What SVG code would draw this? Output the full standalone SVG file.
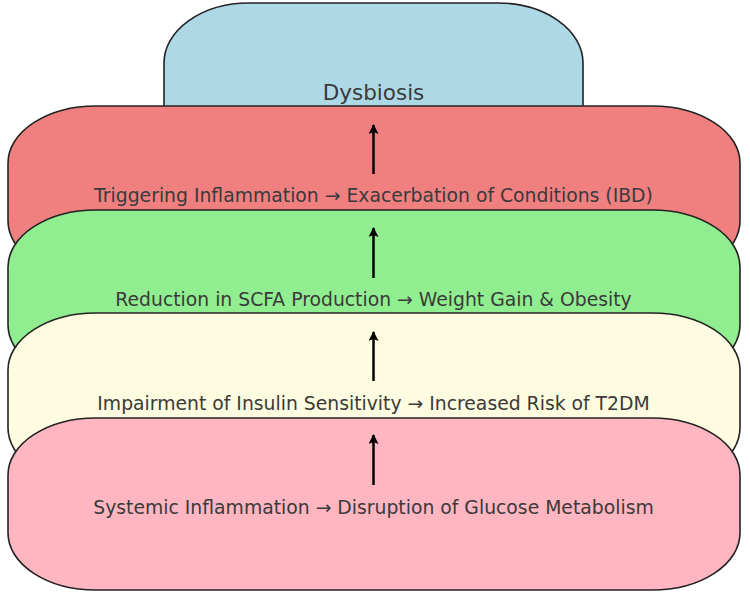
<svg xmlns="http://www.w3.org/2000/svg" width="750" height="598" viewBox="0 0 750 598">
<style>
.box{stroke:#222;stroke-width:1.6}
.lbl{font-family:"DejaVu Sans",sans-serif;font-size:18.8px;fill:#3a3a3a;text-anchor:middle}
.title{font-size:21.5px}
.arr{stroke:#000;stroke-width:2.5;fill:none;marker-end:url(#ah)}
</style>
<defs>
<marker id="ah" viewBox="0 0 10 10" refX="9" refY="5" markerWidth="4" markerHeight="4" orient="auto" markerUnits="strokeWidth">
<path d="M0,0 L10,5 L0,10 L2,5 Z" fill="#000"/>
</marker>
</defs>
<rect width="750" height="598" fill="#fff"/>
<g id="dysbiosis">
<rect class="box" x="164" y="3" width="419" height="172" rx="85" ry="60" fill="#ADD8E6"/>
<text class="lbl title" x="373.5" y="99.5">Dysbiosis</text>
</g>
<g id="inflammation">
<rect class="box" x="8" y="106" width="732" height="172" rx="88" ry="57" fill="#F08080"/>
<text class="lbl" x="373.5" y="202">Triggering Inflammation → Exacerbation of Conditions (IBD)</text>
</g>
<g id="scfa">
<rect class="box" x="8" y="210" width="732" height="172" rx="88" ry="57" fill="#90EE90"/>
<text class="lbl" x="373.5" y="305.5">Reduction in SCFA Production → Weight Gain &amp; Obesity</text>
</g>
<g id="insulin">
<rect class="box" x="8" y="313" width="732" height="172" rx="88" ry="57" fill="#FEFCE0"/>
<text class="lbl" x="373.5" y="410">Impairment of Insulin Sensitivity → Increased Risk of T2DM</text>
</g>
<g id="systemic">
<rect class="box" x="8" y="418" width="732" height="172" rx="88" ry="57" fill="#FFB6C1"/>
<text class="lbl" x="373.5" y="514">Systemic Inflammation → Disruption of Glucose Metabolism</text>
</g>
<g id="connectors">
<line class="arr" x1="373.5" y1="174" x2="373.5" y2="125"/>
<line class="arr" x1="373.5" y1="278" x2="373.5" y2="228"/>
<line class="arr" x1="373.5" y1="381" x2="373.5" y2="332"/>
<line class="arr" x1="373.5" y1="485" x2="373.5" y2="435"/>
</g>
</svg>
